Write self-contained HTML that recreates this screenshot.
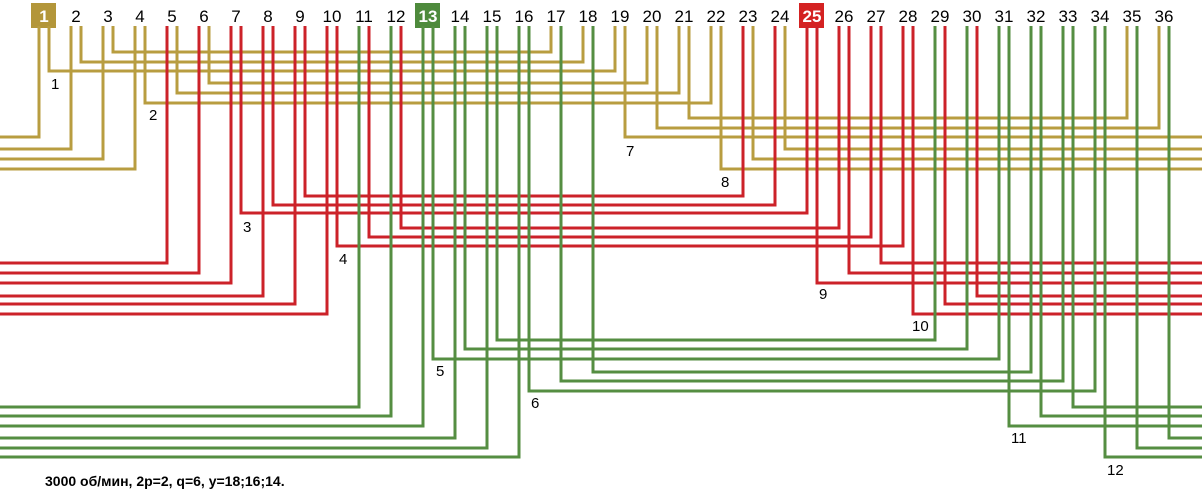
<!DOCTYPE html>
<html><head><meta charset="utf-8"><style>
html,body{margin:0;padding:0;background:#fff;}
svg{display:block;font-family:"Liberation Sans",sans-serif;}
.t{fill:none;stroke:#b89d40;stroke-width:3;}
.r{fill:none;stroke:#cc2229;stroke-width:3;}
.g{fill:none;stroke:#558e42;stroke-width:3;}
.n{font-size:17px;fill:#000;text-anchor:middle;}
.l{font-size:15px;fill:#000;}
</style></head><body>
<svg width="1202" height="494" viewBox="0 0 1202 494">
<rect x="31" y="3" width="25" height="25" fill="#b3963a"/>
<rect x="415" y="3" width="25" height="25" fill="#4e8a3c"/>
<rect x="799" y="3" width="25" height="25" fill="#d42222"/>
<g class="n">
<text x="44" y="22" style="fill:#fff;font-weight:bold">1</text><text x="76" y="22">2</text><text x="108" y="22">3</text><text x="140" y="22">4</text><text x="172" y="22">5</text><text x="204" y="22">6</text><text x="236" y="22">7</text><text x="268" y="22">8</text><text x="300" y="22">9</text><text x="332" y="22">10</text><text x="364" y="22">11</text><text x="396" y="22">12</text><text x="428" y="22" style="fill:#fff;font-weight:bold">13</text><text x="460" y="22">14</text><text x="492" y="22">15</text><text x="524" y="22">16</text><text x="556" y="22">17</text><text x="588" y="22">18</text><text x="620" y="22">19</text><text x="652" y="22">20</text><text x="684" y="22">21</text><text x="716" y="22">22</text><text x="748" y="22">23</text><text x="780" y="22">24</text><text x="812" y="22" style="fill:#fff;font-weight:bold">25</text><text x="844" y="22">26</text><text x="876" y="22">27</text><text x="908" y="22">28</text><text x="940" y="22">29</text><text x="972" y="22">30</text><text x="1004" y="22">31</text><text x="1036" y="22">32</text><text x="1068" y="22">33</text><text x="1100" y="22">34</text><text x="1132" y="22">35</text><text x="1164" y="22">36</text>
</g>
<g class="t">
<polyline points="113,26 113,52 551,52 551,26"/>
<polyline points="81,26 81,62 583,62 583,26"/>
<polyline points="49,26 49,71 615,71 615,26"/>
<polyline points="209,26 209,83 647,83 647,26"/>
<polyline points="177,26 177,93 679,93 679,26"/>
<polyline points="145,26 145,103 711,103 711,26"/>
<polyline points="689,26 689,118 1127,118 1127,26"/>
<polyline points="657,26 657,128 1159,128 1159,26"/>
<polyline points="625,26 625,137 1202,137"/><polyline points="0,137 39,137 39,26"/>
<polyline points="785,26 785,149 1202,149"/><polyline points="0,149 71,149 71,26"/>
<polyline points="753,26 753,159 1202,159"/><polyline points="0,159 103,159 103,26"/>
<polyline points="721,26 721,169 1202,169"/><polyline points="0,169 135,169 135,26"/>
</g>
<g class="r">
<polyline points="305,26 305,196 743,196 743,26"/>
<polyline points="273,26 273,205 775,205 775,26"/>
<polyline points="241,26 241,213 807,213 807,26"/>
<polyline points="401,26 401,228 839,228 839,26"/>
<polyline points="369,26 369,237 871,237 871,26"/>
<polyline points="337,26 337,246 903,246 903,26"/>
<polyline points="881,26 881,263 1202,263"/><polyline points="0,263 167,263 167,26"/>
<polyline points="849,26 849,273 1202,273"/><polyline points="0,273 199,273 199,26"/>
<polyline points="817,26 817,283 1202,283"/><polyline points="0,283 231,283 231,26"/>
<polyline points="977,26 977,296 1202,296"/><polyline points="0,296 263,296 263,26"/>
<polyline points="945,26 945,304 1202,304"/><polyline points="0,304 295,304 295,26"/>
<polyline points="913,26 913,314 1202,314"/><polyline points="0,314 327,314 327,26"/>
</g>
<g class="g">
<polyline points="497,26 497,340 935,340 935,26"/>
<polyline points="465,26 465,349 967,349 967,26"/>
<polyline points="433,26 433,359 999,359 999,26"/>
<polyline points="593,26 593,372 1031,372 1031,26"/>
<polyline points="561,26 561,381 1063,381 1063,26"/>
<polyline points="529,26 529,391 1095,391 1095,26"/>
<polyline points="1073,26 1073,407 1202,407"/><polyline points="0,407 359,407 359,26"/>
<polyline points="1041,26 1041,416 1202,416"/><polyline points="0,416 391,416 391,26"/>
<polyline points="1009,26 1009,426 1202,426"/><polyline points="0,426 423,426 423,26"/>
<polyline points="1169,26 1169,438 1202,438"/><polyline points="0,438 455,438 455,26"/>
<polyline points="1137,26 1137,448 1202,448"/><polyline points="0,448 487,448 487,26"/>
<polyline points="1105,26 1105,457 1202,457"/><polyline points="0,457 519,457 519,26"/>
</g>
<g class="l">
<text x="51" y="89">1</text><text x="149" y="120">2</text><text x="243" y="232">3</text><text x="339" y="264">4</text><text x="436" y="376">5</text><text x="531" y="408">6</text><text x="626" y="156">7</text><text x="721" y="187">8</text><text x="819" y="299">9</text><text x="912" y="331">10</text><text x="1011" y="443">11</text><text x="1107" y="475">12</text>
</g>
<text x="45" y="486" style="font-size:14px;font-weight:bold;fill:#000">3000 об/мин, 2p=2, q=6, y=18;16;14.</text>
</svg>
</body></html>
